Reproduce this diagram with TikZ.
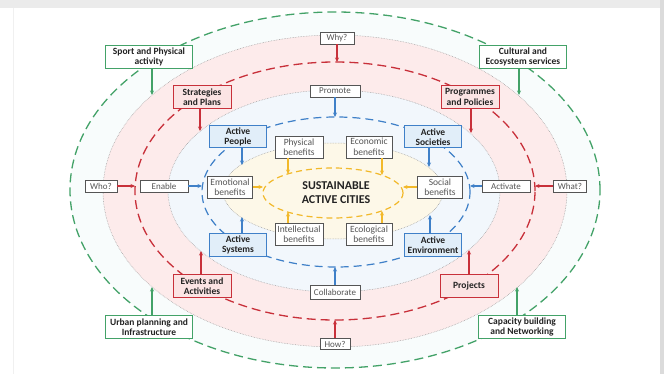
\documentclass[tikz,border=0pt]{standalone}
\usepackage{fontspec}
\setmainfont{Carlito}
\usetikzlibrary{arrows.meta}
\definecolor{gr}{HTML}{43A268}
\definecolor{rd}{HTML}{C8303A}
\definecolor{bl}{HTML}{3F80C8}
\definecolor{yl}{HTML}{F2B92A}
\definecolor{gy}{HTML}{555555}
\definecolor{txt}{HTML}{222222}
\definecolor{bandg}{HTML}{F8FCFC}
\definecolor{bandr}{HTML}{FDEBEB}
\definecolor{bandb}{HTML}{F2F7FC}
\definecolor{bandy}{HTML}{FDF8E8}
\definecolor{redfill}{HTML}{FBE4E4}
\definecolor{bluefill}{HTML}{E1EEF9}
\begin{document}
\begin{tikzpicture}[x=1pt,y=-1pt,
  every node/.style={font=\fontsize{9}{10}\selectfont, text=txt},
  bx/.style={draw=gy, line width=0.8pt, fill=white, inner sep=0.8pt, align=center, text=gy},
  gbx/.style={draw=gr, line width=1pt, fill=white, inner sep=0.5pt, align=center, font=\bfseries\fontsize{9.5}{10.5}\selectfont, minimum width=87pt, minimum height=23pt},
  rbx/.style={draw=rd, line width=1pt, fill=redfill, inner sep=0.5pt, align=center, font=\bfseries\fontsize{9.5}{10.5}\selectfont, minimum width=58pt, minimum height=23pt},
  bbx/.style={draw=bl, line width=1pt, fill=bluefill, inner sep=0.5pt, align=center, font=\bfseries\fontsize{9.5}{10.5}\selectfont, minimum width=57pt, minimum height=22pt},
  benbx/.style={bx, minimum width=47pt, minimum height=22pt, font=\fontsize{9.5}{10.5}\selectfont},
  onebx/.style={bx, minimum height=12pt},
  arr/.style={-{Stealth[length=4.5pt,width=4pt]}, line width=1.1pt},
  dotring/.style={draw=gray!80, line width=0.5pt, dash pattern=on 0.6pt off 1pt},
]
\useasboundingbox (0,0) rectangle (664,374);
% page frame
\fill[white] (0,0) rectangle (664,374);
\fill[black!8] (0,0) rectangle (664,8);
\fill[black!14] (660,0) rectangle (664,374);
\draw[black!6, line width=0.6pt] (13,8) -- (13,374);

% band fills
\fill[bandg] (335,190) ellipse [x radius=265pt, y radius=178pt];
\fill[bandr] (335,191) ellipse [x radius=232pt, y radius=156pt];
\fill[bandb] (334,191) ellipse [x radius=166pt, y radius=101pt];
\fill[bandy] (333,191) ellipse [x radius=110pt, y radius=48pt];

% rings
\draw[gr, line width=1.3pt, dash pattern=on 9pt off 5pt] (335,190) ellipse [x radius=265pt, y radius=178pt];
\draw[dotring] (335,191) ellipse [x radius=232pt, y radius=156pt];
\draw[rd, line width=1.3pt, dash pattern=on 9pt off 5pt] (335,191) ellipse [x radius=200pt, y radius=129pt];
\draw[dotring] (334,191) ellipse [x radius=166pt, y radius=101pt];
\draw[bl, line width=1.2pt, dash pattern=on 8pt off 5pt] (336,192) ellipse [x radius=134pt, y radius=75pt];
\draw[dotring] (333,191) ellipse [x radius=110pt, y radius=48pt];
\draw[yl, line width=1.2pt, dash pattern=on 6pt off 4pt] (333,193) ellipse [x radius=70pt, y radius=25pt];

% arrow targets on the rings
\coordinate (tWhy) at (337,62);
\coordinate (tHow) at (335,320);
\coordinate (tWho) at (135,186);
\coordinate (tWhat) at (535,186);
\coordinate (tPromote) at (335,117);
\coordinate (tCollab) at (335,267);
\coordinate (tEnable) at (202,186);
\coordinate (tActivate) at (470,186);
\coordinate (tSport) at (152,95);
\coordinate (tCult) at (519,95);
\coordinate (tUrban) at (152,287);
\coordinate (tCap) at (517,287);
\coordinate (tStrat) at (200,131);
\coordinate (tProg) at (471,133);
\coordinate (tEvents) at (201,251);
\coordinate (tProj) at (469,250);
\coordinate (tPeople) at (242,165);
\coordinate (tSoc) at (429,167);
\coordinate (tSys) at (242,217);
\coordinate (tEnv) at (430,215);
\coordinate (tPhys) at (288,174);
\coordinate (tEcon) at (382,175);
\coordinate (tIntel) at (288,212);
\coordinate (tEcol) at (382,211);
\coordinate (tEmo) at (263,187);
\coordinate (tSocial) at (403,187);

% nodes
\node[onebx, minimum width=34pt] (why) at (337,38) {Why?};
\node[onebx, minimum width=50pt] (promote) at (335,91) {Promote};
\node[onebx, minimum width=32pt] (who) at (101,186) {Who?};
\node[onebx, minimum width=48pt] (enable) at (164,186) {Enable};
\node[onebx, minimum width=48pt] (activate) at (506,186) {Activate};
\node[onebx, minimum width=33pt] (what) at (570,186) {What?};
\node[onebx, minimum width=50pt, minimum height=14pt] (collab) at (335,292) {Collaborate};
\node[onebx, minimum width=30pt, minimum height=11pt] (how) at (335,344) {How?};

\node[gbx] (sport) at (149,57) {Sport and Physical\\activity};
\node[gbx] (cult) at (523,57) {Cultural and\\Ecosystem services};
\node[gbx] (urban) at (149,327) {Urban planning and\\Infrastructure};
\node[gbx] (cap) at (522,327) {Capacity building\\and Networking};

\node[rbx] (strat) at (202,97) {Strategies\\and Plans};
\node[rbx] (prog) at (470,97) {Programmes\\and Policies};
\node[rbx] (events) at (202,286) {Events and\\Activities};
\node[rbx] (proj) at (469,286) {Projects};

\node[bbx] (people) at (238,137) {Active\\People};
\node[bbx] (soc) at (433,137) {Active\\Societies};
\node[bbx] (sys) at (238,245) {Active\\Systems};
\node[bbx] (env) at (433,245) {Active\\Environment};

\node[benbx, minimum width=48pt] (phys) at (299,147) {Physical\\benefits};
\node[benbx, minimum width=46pt] (econ) at (369,147) {Economic\\benefits};
\node[benbx, minimum width=48pt] (intel) at (299,234) {Intellectual\\benefits};
\node[benbx, minimum width=46pt] (ecol) at (369,234) {Ecological\\benefits};
\node[benbx, minimum width=45pt] (emo) at (230,187) {Emotional\\benefits};
\node[benbx, minimum width=45pt] (social) at (440,187) {Social\\benefits};

\node[align=center, font=\bfseries\fontsize{12}{14}\selectfont] (core) at (336,193) {SUSTAINABLE\\ACTIVE CITIES};

% connectors
\draw[arr, rd] (why) -- (tWhy);
\draw[arr, rd] (how) -- (tHow);
\draw[arr, rd] (who) -- (tWho);
\draw[arr, rd] (what) -- (tWhat);
\draw[arr, bl] (promote) -- (tPromote);
\draw[arr, bl] (collab) -- (tCollab);
\draw[arr, bl] (enable) -- (tEnable);
\draw[arr, bl] (activate) -- (tActivate);
\draw[arr, gr] (sport.south -| tSport) -- (tSport);
\draw[arr, gr] (cult.south -| tCult) -- (tCult);
\draw[arr, gr] (urban.north -| tUrban) -- (tUrban);
\draw[arr, gr] (cap.north -| tCap) -- (tCap);
\draw[arr, rd] (strat.south -| tStrat) -- (tStrat);
\draw[arr, rd] (prog.south -| tProg) -- (tProg);
\draw[arr, rd] (events.north -| tEvents) -- (tEvents);
\draw[arr, rd] (proj.north -| tProj) -- (tProj);
\draw[arr, bl] (people.south -| tPeople) -- (tPeople);
\draw[arr, bl] (soc.south -| tSoc) -- (tSoc);
\draw[arr, bl] (sys.north -| tSys) -- (tSys);
\draw[arr, bl] (env.north -| tEnv) -- (tEnv);
\draw[arr, yl] (phys.south -| tPhys) -- (tPhys);
\draw[arr, yl] (econ.south -| tEcon) -- (tEcon);
\draw[arr, yl] (intel.north -| tIntel) -- (tIntel);
\draw[arr, yl] (ecol.north -| tEcol) -- (tEcol);
\draw[arr, yl] (emo) -- (tEmo);
\draw[arr, yl] (social) -- (tSocial);
\end{tikzpicture}
\end{document}
